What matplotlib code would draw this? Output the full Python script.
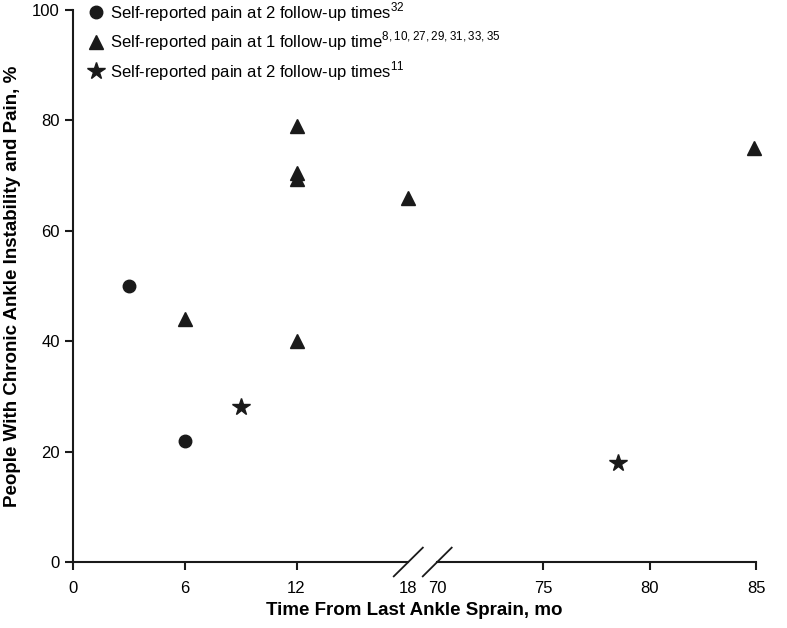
import matplotlib
matplotlib.use("Agg")
import matplotlib.pyplot as plt
import numpy as np

plt.rcParams["font.family"] = "Liberation Sans"
plt.rcParams["mathtext.fontset"] = "custom"
plt.rcParams["mathtext.rm"] = "Liberation Sans"

# data (months, %)
circle_x = [3, 6]
circle_y = [50, 22]
tri_x = [6, 12, 12, 12, 12, 18, 84.9]
tri_y = [44, 79, 70.5, 69.3, 40, 66, 75]
star_x = [9, 78.5]
star_y = [28, 18]
xticks = [0, 6, 12, 18, 70, 75, 80, 85]
yticks = [0, 20, 40, 60, 80, 100]

# broken x axis: 0-18 and 70-85 in pixel-like units
L, GAP, R = 18.67, 29.0, 21.3

def fwd(x):
    x = np.asarray(x, dtype=float)
    return np.where(x <= 44, x * L, 18 * L + GAP + (x - 70) * R)

def inv(u):
    u = np.asarray(u, dtype=float)
    return np.where(u <= 18 * L + GAP / 2, u / L, 70 + (u - 18 * L - GAP) / R)

fig = plt.figure(figsize=(7.87, 6.28), dpi=100)
ax = fig.add_axes([73 / 787, 1 - 562 / 628, (756 - 73) / 787, (562 - 10) / 628])
ax.set_xscale("function", functions=(fwd, inv))
ax.set_xlim(0, 85)
ax.set_ylim(0, 100)

ax.plot(circle_x, circle_y, "o", color="#1a1a1a", ms=9, ls="none", clip_on=False,
        label=r"Self-reported pain at 2 follow-up times$^{32}$")
ax.plot(tri_x, tri_y, "^", color="#1a1a1a", ms=10, ls="none", clip_on=False,
        label=r"Self-reported pain at 1 follow-up time$^{8,10,27,29,31,33,35}$")
ax.plot(star_x, star_y, "*", color="#1a1a1a", ms=13, ls="none", clip_on=False,
        label=r"Self-reported pain at 2 follow-up times$^{11}$")

for s in ["top", "right", "bottom"]:
    ax.spines[s].set_visible(False)
ax.spines["left"].set_linewidth(1.5)
ax.spines["left"].set_color("#1a1a1a")

# axis line with break
ax.plot([0, 18], [0, 0], color="#1a1a1a", lw=1.5, clip_on=False)
ax.plot([70, 85], [0, 0], color="#1a1a1a", lw=1.5, clip_on=False)
ax.plot([17.22, 18.78], [-2.6, 2.6], color="#1a1a1a", lw=1.3, clip_on=False)
ax.plot([69.32, 70.68], [-2.6, 2.6], color="#1a1a1a", lw=1.3, clip_on=False)

ax.set_xticks(xticks)
ax.set_xticklabels([str(t) for t in xticks])
ax.set_yticks(yticks)
ax.tick_params(axis="both", labelsize=12, width=1.5, length=6, color="#1a1a1a")
ax.tick_params(axis="x", pad=8)
for i, tl in enumerate(ax.xaxis.get_ticklines()):
    if i // 2 in (3, 4):
        tl.set_visible(False)

ax.set_xlabel("Time From Last Ankle Sprain, mo", fontsize=13.5, fontweight="bold", labelpad=4)
ax.set_ylabel("People With Chronic Ankle Instability and Pain, %", fontsize=13.5,
              fontweight="bold", labelpad=8)

ax.legend(loc="upper left", bbox_to_anchor=(0.01, 1.03), frameon=False, fontsize=12,
          handletextpad=0.2, handlelength=1.2, labelspacing=0.35, borderaxespad=0)

fig.savefig("out.png", dpi=100)
